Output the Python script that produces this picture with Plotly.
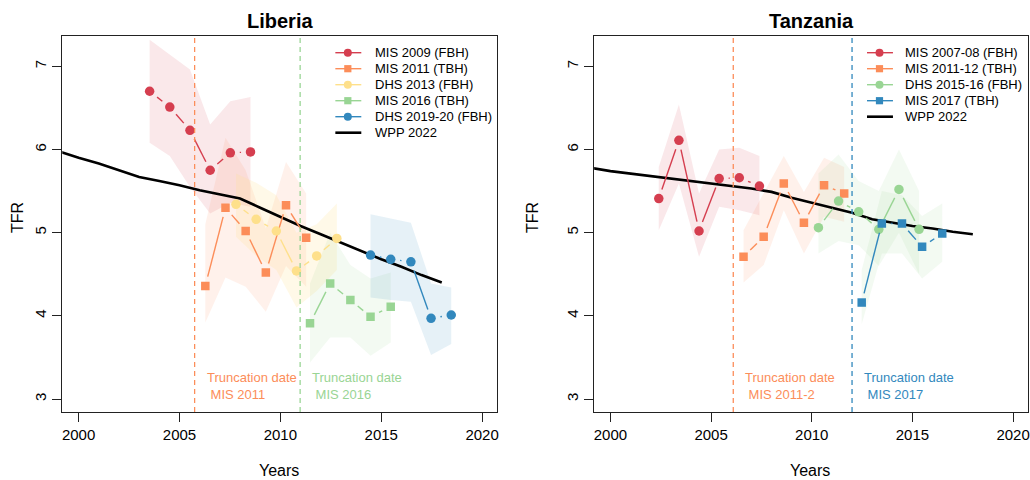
import math
import plotly.graph_objects as go

W, H = 1030, 480

# ---------------- data: Liberia ----------------
lib_names = ["MIS 2009 (FBH)", "MIS 2011 (TBH)", "DHS 2013 (FBH)", "MIS 2016 (TBH)", "DHS 2019-20 (FBH)"]
lib_colors = ["#d53e4f", "#fc8d59", "#fee08b", "#99d594", "#3288bd"]
lib_band_colors = ["#d53e4f", "#fc8d59", "#fee08b", "#99d594", "#3288bd"]
lib_symbols = ["circle", "square", "circle", "square", "circle"]

lib_mis09_x = [2003.52, 2004.52, 2005.52, 2006.52, 2007.52, 2008.52]
lib_mis09_y = [6.70, 6.51, 6.23, 5.75, 5.96, 5.97]
lib_mis09_lo = [6.08, 5.92, 5.55, 5.23, 5.36, 5.31]
lib_mis09_hi = [7.32, 7.14, 6.96, 6.30, 6.58, 6.63]

lib_mis11_x = [2006.28, 2007.28, 2008.28, 2009.28, 2010.28, 2011.28]
lib_mis11_y = [4.36, 5.30, 5.02, 4.52, 5.33, 4.94]
lib_mis11_lo = [3.92, 4.46, 4.35, 4.05, 4.60, 4.35]
lib_mis11_hi = [5.10, 6.14, 5.75, 5.05, 5.85, 5.47]

lib_dhs13_x = [2007.80, 2008.80, 2009.80, 2010.80, 2011.80, 2012.80]
lib_dhs13_y = [5.34, 5.16, 5.02, 4.54, 4.72, 4.93]
lib_dhs13_lo = [4.95, 4.72, 4.55, 4.10, 4.30, 4.55]
lib_dhs13_hi = [5.71, 5.60, 5.45, 5.00, 5.10, 5.35]

lib_mis16_x = [2011.47, 2012.47, 2013.47, 2014.47, 2015.47]
lib_mis16_y = [3.91, 4.39, 4.19, 3.99, 4.11]
lib_mis16_lo = [3.44, 3.74, 3.74, 3.52, 3.68]
lib_mis16_hi = [4.39, 5.00, 4.61, 4.45, 4.52]

lib_dhs19_x = [2014.47, 2015.47, 2016.47, 2017.47, 2018.47]
lib_dhs19_y = [4.73, 4.68, 4.65, 3.97, 4.01]
lib_dhs19_lo = [4.22, 4.19, 4.17, 3.53, 3.66]
lib_dhs19_hi = [5.22, 5.17, 5.12, 4.39, 4.34]

lib_wpp_x = list(range(1998, 2019))
lib_wpp_y = [6.06, 5.98, 5.90, 5.83, 5.75, 5.67, 5.62, 5.57, 5.51, 5.46, 5.41,
             5.30, 5.19, 5.08, 4.98, 4.88, 4.78, 4.68, 4.59, 4.49, 4.40]

lib_trunc_x = [2005.75, 2010.98]
lib_trunc_colors = ["#fc8d59", "#99d594"]
lib_trunc_labels = ["MIS 2011", "MIS 2016"]

# ---------------- data: Tanzania ----------------
tza_names = ["MIS 2007-08 (FBH)", "MIS 2011-12 (TBH)", "DHS 2015-16 (FBH)", "MIS 2017 (TBH)"]
tza_colors = ["#d53e4f", "#fc8d59", "#99d594", "#3288bd"]
tza_band_colors = ["#d53e4f", "#fc8d59", "#99d594", "#99d594"]
tza_symbols = ["circle", "square", "circle", "square"]

tza_mis07_x = [2002.40, 2003.40, 2004.40, 2005.40, 2006.40, 2007.40]
tza_mis07_y = [5.41, 6.11, 5.02, 5.65, 5.66, 5.56]
tza_mis07_lo = [5.03, 5.59, 4.71, 5.31, 5.27, 5.21]
tza_mis07_hi = [5.79, 6.54, 5.47, 6.00, 6.02, 5.92]

tza_mis11_x = [2006.61, 2007.61, 2008.61, 2009.61, 2010.61, 2011.61]
tza_mis11_y = [4.71, 4.95, 5.59, 5.12, 5.57, 5.47]
tza_mis11_lo = [4.40, 4.61, 5.27, 4.75, 5.19, 5.13]
tza_mis11_hi = [5.03, 5.47, 5.92, 5.49, 5.90, 5.79]

tza_dhs15_x = [2010.33, 2011.33, 2012.33, 2013.33, 2014.33, 2015.33]
tza_dhs15_y = [5.06, 5.38, 5.25, 5.04, 5.52, 5.04]
tza_dhs15_lo = [4.75, 4.90, 4.85, 4.60, 5.00, 4.50]
tza_dhs15_hi = [5.71, 5.94, 5.62, 5.50, 6.00, 5.50]

tza_mis17_x = [2012.48, 2013.48, 2014.48, 2015.48, 2016.48]
tza_mis17_y = [4.16, 5.11, 5.11, 4.83, 4.99]
tza_mis17_lo = [3.90, 4.75, 4.75, 4.45, 4.65]
tza_mis17_hi = [4.55, 5.50, 5.45, 5.20, 5.35]

tza_wpp_x = list(range(1998, 2019))
tza_wpp_y = [5.80, 5.78, 5.74, 5.71, 5.68, 5.65, 5.62, 5.59, 5.56, 5.53, 5.49,
             5.42, 5.36, 5.30, 5.24, 5.16, 5.12, 5.08, 5.05, 5.01, 4.98]

tza_trunc_x = [2006.10, 2012.00]
tza_trunc_colors = ["#fc8d59", "#3288bd"]
tza_trunc_labels = ["MIS 2011-2", "MIS 2017"]

x_ticks = [2000, 2005, 2010, 2015, 2020]
y_ticks = [3, 4, 5, 6, 7]

# ---------------- layout geometry ----------------
XR = [1999.19, 2020.74]
YR = [2.844, 7.364]
dom_left = [62.4 / W, 498 / W]
dom_right = [595.3 / W, 1.0]
dom_y = [1 - 412 / H, 1 - 36 / H]

def hex_rgba(h, a):
    h = h.lstrip("#")
    return "rgba(%d,%d,%d,%.3f)" % (int(h[0:2], 16), int(h[2:4], 16), int(h[4:6], 16), a)

def gapped(xs, ys, sx, sy, gap=9.5):
    X, Y = [], []
    for i in range(len(xs) - 1):
        dx = (xs[i + 1] - xs[i]) * sx
        dy = (ys[i + 1] - ys[i]) * sy
        d = math.hypot(dx, dy)
        if d <= 2 * gap:
            continue
        t = gap / d
        X += [xs[i] + t * (xs[i + 1] - xs[i]), xs[i + 1] - t * (xs[i + 1] - xs[i]), None]
        Y += [ys[i] + t * (ys[i + 1] - ys[i]), ys[i + 1] - t * (ys[i + 1] - ys[i]), None]
    return X, Y

fig = go.Figure()

panels = [
    dict(xa="x", ya="y", dom=dom_left,
         series=[(lib_mis09_x, lib_mis09_y, lib_mis09_lo, lib_mis09_hi),
                 (lib_mis11_x, lib_mis11_y, lib_mis11_lo, lib_mis11_hi),
                 (lib_dhs13_x, lib_dhs13_y, lib_dhs13_lo, lib_dhs13_hi),
                 (lib_mis16_x, lib_mis16_y, lib_mis16_lo, lib_mis16_hi),
                 (lib_dhs19_x, lib_dhs19_y, lib_dhs19_lo, lib_dhs19_hi)],
         names=lib_names, colors=lib_colors, bands=lib_band_colors, symbols=lib_symbols,
         wpp=(lib_wpp_x, lib_wpp_y), trunc=(lib_trunc_x, lib_trunc_colors, lib_trunc_labels),
         title="Liberia", leg_line=336, leg_text=373.3),
    dict(xa="x2", ya="y2", dom=dom_right,
         series=[(tza_mis07_x, tza_mis07_y, tza_mis07_lo, tza_mis07_hi),
                 (tza_mis11_x, tza_mis11_y, tza_mis11_lo, tza_mis11_hi),
                 (tza_dhs15_x, tza_dhs15_y, tza_dhs15_lo, tza_dhs15_hi),
                 (tza_mis17_x, tza_mis17_y, tza_mis17_lo, tza_mis17_hi)],
         names=tza_names, colors=tza_colors, bands=tza_band_colors, symbols=tza_symbols,
         wpp=(tza_wpp_x, tza_wpp_y), trunc=(tza_trunc_x, tza_trunc_colors, tza_trunc_labels),
         title="Tanzania", leg_line=868.7, leg_text=905),
]

shapes, annotations = [], []
FONT = "Liberation Sans, Arial, sans-serif"

for p in panels:
    sx = (p["dom"][1] - p["dom"][0]) * W / (XR[1] - XR[0])
    sy = (dom_y[1] - dom_y[0]) * H / (YR[1] - YR[0])
    # ribbons
    for (xs, ys, lo, hi), bc in zip(p["series"], p["bands"]):
        a = 0.2 if bc == "#fee08b" else 0.12
        fig.add_trace(go.Scatter(x=xs + xs[::-1], y=hi + lo[::-1], fill="toself",
                                 fillcolor=hex_rgba(bc, a), line=dict(width=0),
                                 mode="lines", hoverinfo="skip", showlegend=False,
                                 xaxis=p["xa"], yaxis=p["ya"]))
    # WPP
    fig.add_trace(go.Scatter(x=p["wpp"][0], y=p["wpp"][1], mode="lines",
                             line=dict(color="black", width=2.6), showlegend=False,
                             xaxis=p["xa"], yaxis=p["ya"]))
    # series lines (gapped like type='b') + markers
    for (xs, ys, lo, hi), c, sym in zip(p["series"], p["colors"], p["symbols"]):
        gx, gy = gapped(xs, ys, sx, sy)
        fig.add_trace(go.Scatter(x=gx, y=gy, mode="lines", line=dict(color=c, width=1.4),
                                 showlegend=False, xaxis=p["xa"], yaxis=p["ya"]))
        fig.add_trace(go.Scatter(x=xs, y=ys, mode="markers",
                                 marker=dict(color=c, symbol=sym, size=9.5 if sym == "circle" else 8.5,
                                             line=dict(width=0)),
                                 showlegend=False, xaxis=p["xa"], yaxis=p["ya"]))
    # truncation lines + labels
    for tx, tc, tl in zip(*p["trunc"]):
        shapes.append(dict(type="line", xref=p["xa"], yref=p["ya"] + " domain",
                           x0=tx, x1=tx, y0=0, y1=1,
                           line=dict(color=tc, width=1.3, dash="5px,4px")))
        annotations.append(dict(xref=p["xa"], yref=p["ya"], x=tx, y=3.16, xshift=10,
                                xanchor="left", yanchor="middle", align="left", showarrow=False,
                                text="Truncation date<br>&nbsp;" + tl,
                                font=dict(family=FONT, size=13, color=tc)))
    # title
    annotations.append(dict(xref=p["xa"] + " domain", yref="paper", x=0.5, y=1 - 21 / H,
                            xanchor="center", yanchor="middle", showarrow=False,
                            text="<b>" + p["title"] + "</b>",
                            font=dict(family=FONT, size=20, color="black")))
    # manual legend
    names = p["names"] + ["WPP 2022"]
    colors = p["colors"] + ["black"]
    syms = p["symbols"] + [None]
    for i, (nm, c, sym) in enumerate(zip(names, colors, syms)):
        yp = 1 - (52.7 + i * 16.0) / H
        x0 = p["leg_line"] / W
        x1 = (p["leg_line"] + 26) / W
        xm = (p["leg_line"] + 12.5) / W
        shapes.append(dict(type="line", xref="paper", yref="paper", x0=x0, x1=x1, y0=yp, y1=yp,
                           line=dict(color=c, width=2.6 if sym is None else 1.4)))
        if sym == "circle":
            shapes.append(dict(type="circle", xref="paper", yref="paper", xsizemode="pixel",
                               ysizemode="pixel", xanchor=xm, yanchor=yp, x0=-4, x1=4, y0=-4, y1=4,
                               fillcolor=c, line=dict(width=0)))
        elif sym == "square":
            shapes.append(dict(type="rect", xref="paper", yref="paper", xsizemode="pixel",
                               ysizemode="pixel", xanchor=xm, yanchor=yp, x0=-3.6, x1=3.6, y0=-3.6, y1=3.6,
                               fillcolor=c, line=dict(width=0)))
        annotations.append(dict(xref="paper", yref="paper", x=p["leg_text"] / W, y=yp,
                                xanchor="left", yanchor="middle", showarrow=False, text=nm,
                                font=dict(family=FONT, size=13, color="black")))

# axis titles
for xc in [280 / W, 812 / W]:
    annotations.append(dict(xref="paper", yref="paper", x=xc, y=1 - 470 / H, xanchor="center",
                            yanchor="middle", showarrow=False, text="Years",
                            font=dict(family=FONT, size=16, color="black")))
for xc in [17 / W, 533 / W]:
    annotations.append(dict(xref="paper", yref="paper", x=xc, y=1 - 217 / H, xanchor="center",
                            yanchor="middle", showarrow=False, text="TFR", textangle=-90,
                            font=dict(family=FONT, size=16, color="black")))

axis_common = dict(showgrid=False, zeroline=False, showline=True, mirror=True,
                   linecolor="#222", linewidth=1, ticks="outside", ticklen=9, tickwidth=1,
                   tickcolor="#222", tickfont=dict(family=FONT, size=15, color="black"))

fig.update_layout(
    width=W, height=H, margin=dict(l=0, r=0, t=0, b=0),
    paper_bgcolor="white", plot_bgcolor="white", showlegend=False,
    xaxis=dict(domain=dom_left, range=XR, tickvals=x_ticks, anchor="y", **axis_common),
    yaxis=dict(domain=dom_y, range=YR, tickvals=y_ticks, tickangle=-90, anchor="x", **axis_common),
    xaxis2=dict(domain=dom_right, range=XR, tickvals=x_ticks, anchor="y2", **axis_common),
    yaxis2=dict(domain=dom_y, range=YR, tickvals=y_ticks, tickangle=-90, anchor="x2", **axis_common),
    shapes=shapes, annotations=annotations,
)

fig.write_html("out.html")
